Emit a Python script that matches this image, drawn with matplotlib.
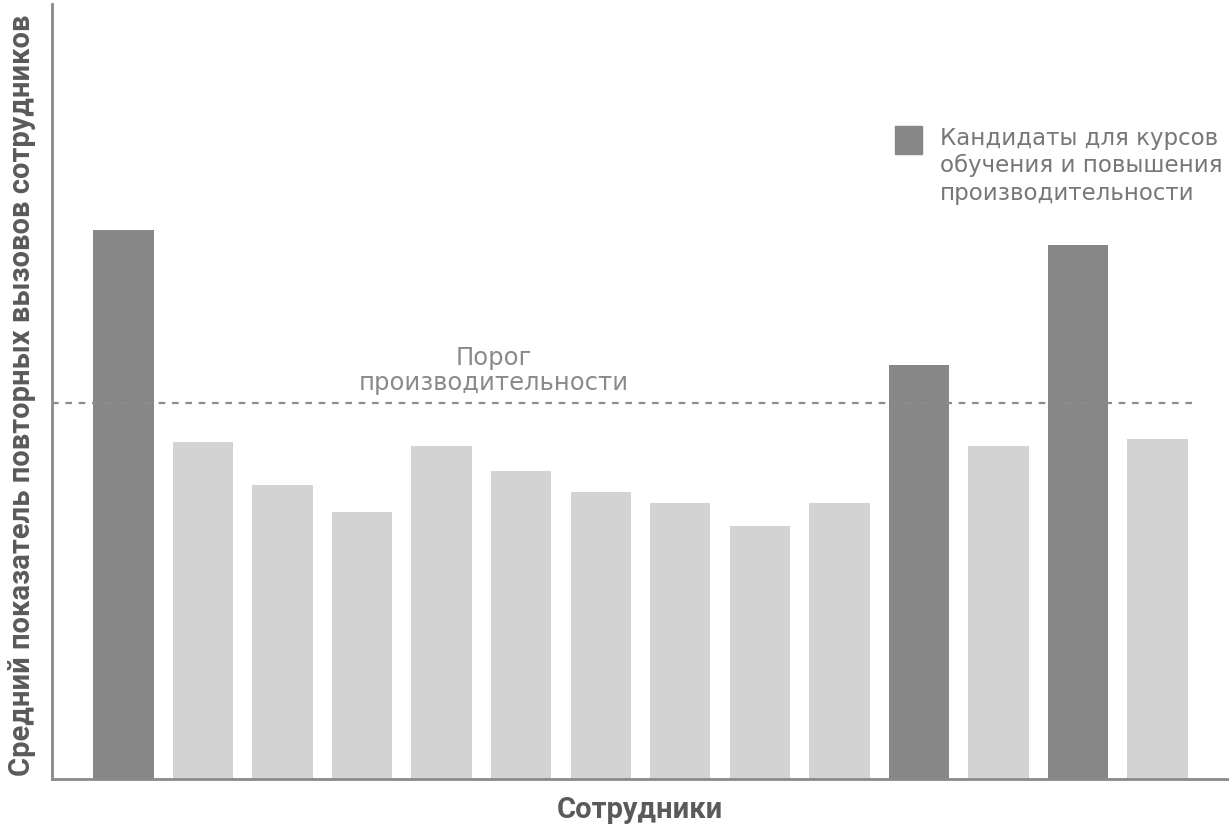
"""Bar chart: average repeat-call rate per employee with a performance threshold."""
import numpy as np
import matplotlib
matplotlib.use("Agg")
import matplotlib.pyplot as plt

plt.rcParams.update({"font.family": "DejaVu Sans"})

# data (arbitrary units)
employees = [f"E{i}" for i in range(1, 15)]
repeat_rate = [5.49, 3.37, 2.94, 2.67, 3.33, 3.08, 2.87, 2.76, 2.53, 2.76, 4.14, 3.33, 5.34, 3.40]
is_candidate = [True, False, False, False, False, False, False, False, False, False, True, False, True, False]
threshold = 3.76

DARK, LIGHT, AXIS = "#878787", "#d3d3d3", "#8a8a8a"

fig = plt.figure(figsize=(12.29, 8.29), dpi=100)
ax = fig.add_axes([52 / 1229, 49 / 829, 1 - 52 / 1229, 775 / 829])

x = np.arange(len(employees))
colors = [DARK if c else LIGHT for c in is_candidate]
ax.bar(x, repeat_rate, width=0.76, color=colors, zorder=2)
ax.axhline(threshold, xmin=0, xmax=0.971, color="#8c8c8c", ls=(0, (3, 3)), lw=1.6, zorder=3)
ax.text(4.65, threshold + 0.335, "Порог\nпроизводительности", ha="center", va="center",
        fontsize=17.5, color="#8a8a8a", linespacing=1.03)

ax.set_xlim(-0.9, len(employees) - 0.1)
ax.set_ylim(0, 7.75)
ax.set_xticks([]); ax.set_yticks([])
for s in ("top", "right"):
    ax.spines[s].set_visible(False)
for s in ("left", "bottom"):
    ax.spines[s].set_color(AXIS); ax.spines[s].set_linewidth(2)

# legend drawn as a square marker plus text
fig.patches.append(plt.Rectangle((895 / 1229, 1 - 155 / 829), 27 / 1229, 28 / 829,
                                 transform=fig.transFigure, color=DARK))
fig.text(940 / 1229, 1 - 127 / 829, "Кандидаты для курсов\nобучения и повышения\nпроизводительности",
         ha="left", va="top", fontsize=16.5, color="#777777", linespacing=1.23)

fig.text(22 / 1229, 1 - 395 / 829, "Средний показатель повторных вызовов сотрудников",
         rotation=90, ha="center", va="center", fontsize=21, fontweight="bold",
         family="Roboto", color="#5a5a5a")
fig.text(640 / 1229, 1 - 810 / 829, "Сотрудники", ha="center", va="center",
         fontsize=21, fontweight="bold", family="Roboto", color="#5a5a5a")

fig.savefig("out.png", dpi=100)
